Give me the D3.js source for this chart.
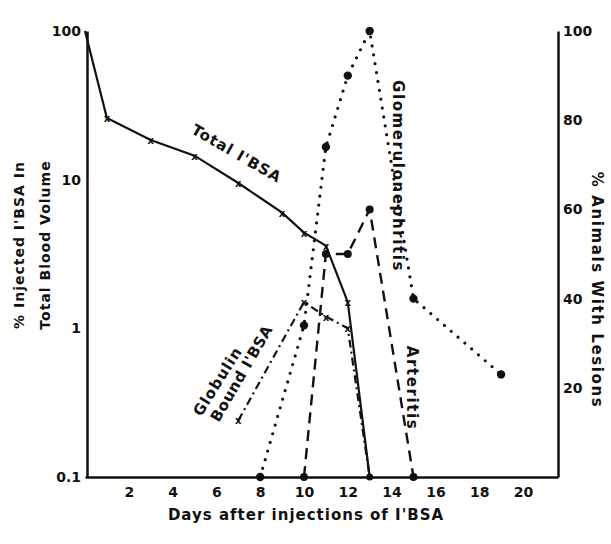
<!DOCTYPE html>
<meta charset="utf-8">
<script src="https://d3js.org/d3.v7.min.js"></script>
<style>
  body { margin: 0; background: #fff; }
  text { font-family: "DejaVu Sans", "Liberation Sans", sans-serif; font-weight: bold; fill: #111; }
</style>
<body>
<div id="chart"></div>
<script>
// Total I'BSA (left, log axis)
var totalDays = [0, 1, 3, 5, 7, 9, 10, 11, 12, 13];
var totalVals = [100, 26, 18.5, 14.5, 9.5, 6.0, 4.4, 3.6, 1.5, 0.1];
// Globulin bound I'BSA (left, log axis)
var globDays = [7, 10, 11, 12, 13];
var globVals = [0.24, 1.5, 1.2, 1.0, 0.1];
// Glomerulonephritis (right axis, % animals)
var glomDays = [8, 10, 11, 12, 13, 15, 19];
var glomVals = [0, 34, 74, 90, 100, 40, 23];
// Arteritis (right axis, % animals)
var artDays = [10, 11, 12, 13, 15];
var artVals = [0, 50, 50, 60, 0];

var xTicks = [2, 4, 6, 8, 10, 12, 14, 16, 18, 20];
var leftTicks = [0.1, 1, 10, 100];
var rightTicks = [20, 40, 60, 80, 100];

var W = 611, H = 544;
var svg = d3.select("#chart").append("svg")
  .attr("width", W).attr("height", H);

var x = d3.scaleLinear().domain([0, 21.6]).range([85, 558]);
var yL = d3.scaleLog().domain([0.1, 100]).range([477, 31]);
var yR = d3.scaleLinear().domain([0, 100]).range([477, 31]);

function styleAxis(g) {
  g.select(".domain").attr("stroke", "#111").attr("stroke-width", 2.5);
  g.selectAll("text").style("font-size", "14px");
}

// axes
svg.append("g")
  .attr("transform", "translate(0,477)")
  .call(d3.axisBottom(x).tickValues(xTicks).tickSize(0).tickPadding(10))
  .call(styleAxis);

svg.append("g")
  .attr("transform", "translate(87,0)")
  .call(d3.axisLeft(yL).tickValues(leftTicks).tickSize(0).tickPadding(6)
    .tickFormat(function(d) { return d < 1 ? "0.1" : String(d); }))
  .call(styleAxis);

svg.append("g")
  .attr("transform", "translate(558,0)")
  .call(d3.axisRight(yR).tickValues(rightTicks).tickSize(0).tickPadding(5))
  .call(styleAxis);

function pts(days, vals) {
  return days.map(function(d, i) { return [d, vals[i]]; });
}

var lineL = d3.line().x(function(d) { return x(d[0]); }).y(function(d) { return yL(d[1]); });
var lineR = d3.line().x(function(d) { return x(d[0]); }).y(function(d) { return yR(d[1]); });

// glomerulonephritis, dotted
var glom = pts(glomDays, glomVals);
svg.append("path").datum(glom).attr("d", lineR)
  .attr("fill", "none").attr("stroke", "#111").attr("stroke-width", 3.2)
  .attr("stroke-linecap", "round").attr("stroke-dasharray", "0 9");
svg.selectAll(".gdot").data(glom).enter().append("circle")
  .attr("cx", function(d) { return x(d[0]); })
  .attr("cy", function(d) { return yR(d[1]); })
  .attr("r", 4.2).attr("fill", "#111");

// arteritis, dashed
var art = pts(artDays, artVals);
svg.append("path").datum(art).attr("d", lineR)
  .attr("fill", "none").attr("stroke", "#111").attr("stroke-width", 2.4)
  .attr("stroke-dasharray", "11 7");
svg.selectAll(".adot").data(art).enter().append("circle")
  .attr("cx", function(d) { return x(d[0]); })
  .attr("cy", function(d) { return yR(d[1]); })
  .attr("r", 4).attr("fill", "#111");

// globulin bound, dash-dot
var glob = pts(globDays, globVals);
svg.append("path").datum(glob).attr("d", lineL)
  .attr("fill", "none").attr("stroke", "#111").attr("stroke-width", 2.2)
  .attr("stroke-dasharray", "8 4 2 4");

// total, solid
var tot = pts(totalDays, totalVals);
svg.append("path").datum(tot).attr("d", lineL)
  .attr("fill", "none").attr("stroke", "#111").attr("stroke-width", 2.2);

// x markers
var crossPts = tot.slice(1, -1).concat(glob.slice(0, -1));
svg.selectAll(".xm").data(crossPts).enter().append("text")
  .attr("x", function(d) { return x(d[0]); })
  .attr("y", function(d) { return yL(d[1]) + 4; })
  .attr("text-anchor", "middle").style("font-size", "10px").text("x");
svg.append("circle")
  .attr("cx", x(13)).attr("cy", yL(0.1)).attr("r", 3.5).attr("fill", "#111");

// series labels
function label(txt, px, py, rot, size, spacing) {
  svg.append("text")
    .attr("transform", "translate(" + px + "," + py + ") rotate(" + rot + ")")
    .attr("text-anchor", "middle")
    .style("font-size", size + "px")
    .style("letter-spacing", (spacing || 0) + "px")
    .text(txt);
}
label("Total I'BSA", 234, 158, 30, 15, 1);
label("Glomerulonephritis", 393, 176, 90, 15, 1.6);
label("Arteritis", 407, 388, 90, 15, 1.6);
label("Globulin", 222, 384, -58, 15, 1);
label("Bound I'BSA", 246, 376, -60, 15, 0.5);

// axis titles
label("% Injected I'BSA In", 24, 245, -90, 14, 1);
label("Total Blood Volume", 50, 245, -90, 14, 1);
label("% Animals With Lesions", 592, 290, 90, 15, 1.6);
label("Days after injections of I'BSA", 306, 520, 0, 15, 1);
</script>
</body>
